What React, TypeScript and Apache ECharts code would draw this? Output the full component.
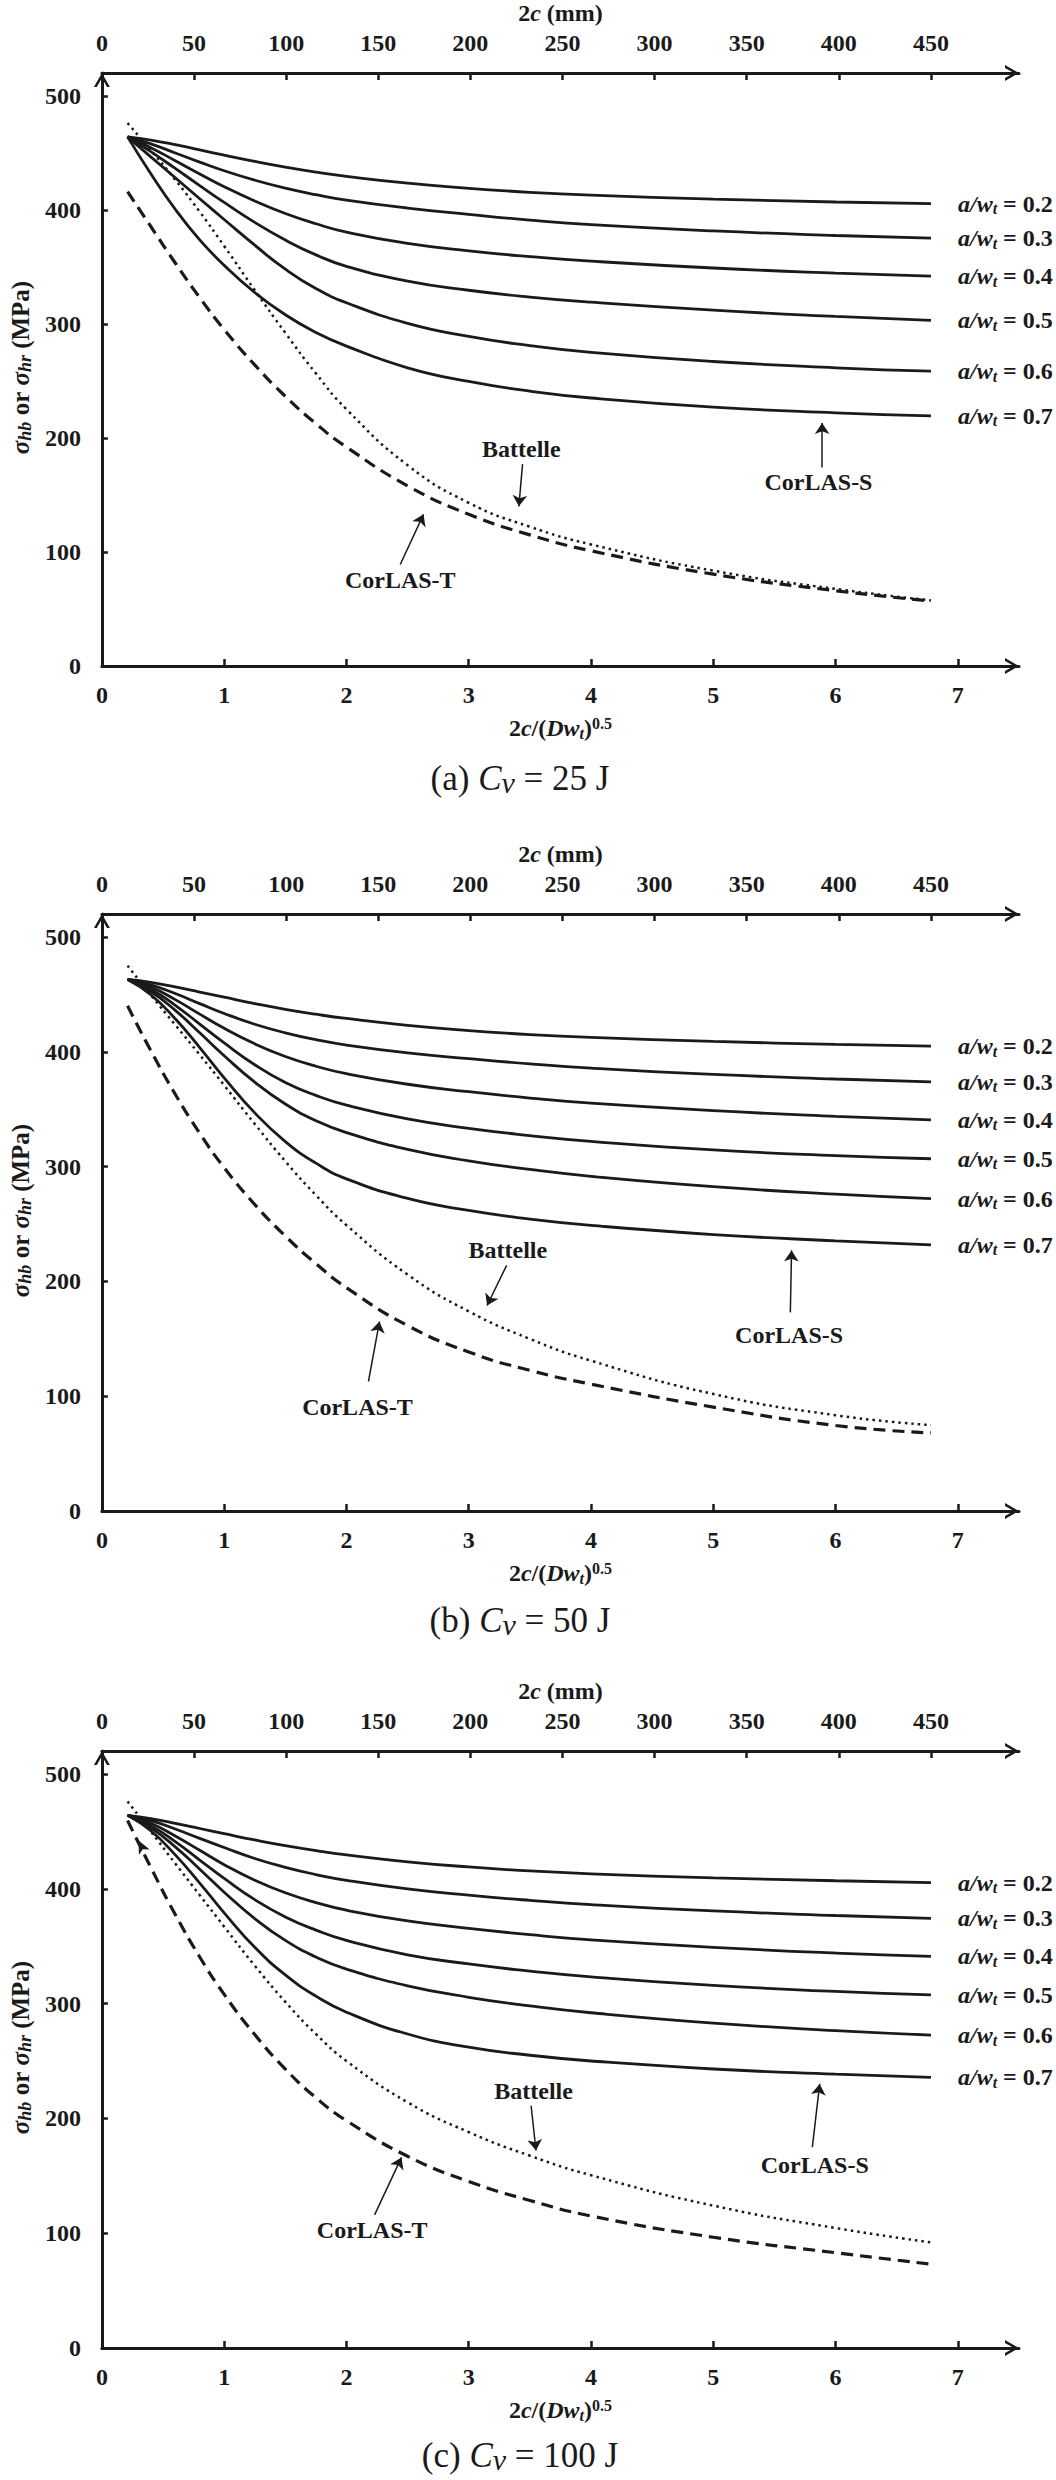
import React, { useEffect, useRef } from "react";
import * as echarts from "echarts";

const INK = "#1a1a1a";
const FONT = '"Liberation Serif", "Times New Roman", serif';

// shared abscissa 2c/(D wt)^0.5
const X_VALUES = [0.21, 0.4, 0.6, 0.8, 1.0, 1.25, 1.5, 1.75, 2.0, 2.5, 3.0, 3.5, 4.0, 5.0, 6.0, 6.78];
const RATIO_LABELS = ["0.2", "0.3", "0.4", "0.5", "0.6", "0.7"];
const BOTTOM_TICKS = [0, 1, 2, 3, 4, 5, 6, 7];
const TOP_TICKS = [0, 50, 100, 150, 200, 250, 300, 350, 400, 450];
const Y_TICKS = [0, 100, 200, 300, 400, 500];
const PANEL_TAGS = ["(a)", "(b)", "(c)"];
const PANEL_ENERGY = ["25", "50", "100"];

// (a) Cv = 25 J
const A_R02 = [464, 461.2, 457.2, 452.6, 448, 442.5, 437.5, 433.1, 429.4, 423.4, 418.9, 415.4, 412.9, 409.4, 406.9, 405.5];
const A_R03 = [464, 457.9, 449.9, 441.9, 434.3, 426, 419, 413.3, 408.5, 401.5, 396, 391, 387, 381.5, 377.5, 375.2];
const A_R04 = [464, 454.5, 443.1, 431.5, 420.3, 407.8, 396.8, 387.8, 380.5, 370.5, 364, 359, 355, 349, 344.5, 341.8];
const A_R05 = [464, 451.1, 436.3, 421.3, 406.5, 389, 373.5, 360.5, 350.5, 337.5, 329.5, 323.5, 319, 312, 306.5, 303];
const A_R06 = [464, 446.5, 428.1, 409.7, 391.5, 369, 348, 331, 318.5, 300.5, 289, 281, 275, 267, 261.5, 258.5];
const A_R07 = [464, 431.7, 400.5, 373.7, 351.3, 327.5, 308, 292.5, 280.5, 261.5, 249.5, 241, 235, 227, 222, 219.3];
const A_BATTELLE = [476, 452.3, 426.3, 398.3, 368.3, 329.6, 292.1, 256.6, 225.1, 176.1, 143.1, 122.1, 106.6, 83.6, 67.6, 57.5];
const A_CORLAS_T = [416, 385.4, 353.4, 323, 295, 264, 236.5, 212.5, 192, 158, 133, 115, 101, 80.5, 66, 57];

// (b) Cv = 50 J
const B_R02 = [463, 460.5, 456.5, 452, 447.5, 442, 437, 432.7, 429, 423, 418.5, 415, 412.5, 409, 406.5, 405];
const B_R03 = [463, 458.3, 450.7, 441.9, 433.3, 424, 416.5, 410.5, 405.8, 399, 394, 389.5, 385.8, 380.3, 376.3, 373.8];
const B_R04 = [463, 456.4, 445.4, 432.8, 420.4, 406.9, 395.9, 387.4, 380.9, 371.7, 365.2, 359.7, 355.2, 348.7, 343.7, 340.6];
const B_R05 = [463, 454.5, 440.5, 424.1, 407.7, 388.7, 373.2, 362, 353.5, 341.5, 333.3, 327, 322, 314.5, 309.5, 306.8];
const B_R06 = [463, 452.5, 436.1, 416.5, 396.5, 373.5, 354.5, 340, 329.5, 315, 305, 297.5, 291.5, 282.5, 276, 272.1];
const B_R07 = [463, 449.7, 428.7, 403.7, 377.3, 346.8, 321.8, 303, 289.3, 272.3, 261.8, 254.3, 248.8, 240.8, 235.3, 231.8];
const B_BATTELLE = [475, 449.4, 423.4, 397.4, 370.8, 337.1, 304.6, 275.1, 248.9, 205.9, 173.9, 149.9, 130.9, 101.9, 83.4, 74.8];
const B_CORLAS_T = [440, 401, 363, 329, 299, 267, 239.5, 215.5, 194.5, 161.5, 138.5, 122.5, 110.5, 90.5, 74.5, 68];

// (c) Cv = 100 J
const C_R02 = [464, 461, 457, 452.5, 448, 442.5, 437.5, 433.2, 429.5, 423.5, 419, 415.5, 413, 409.5, 407, 405.4];
const C_R03 = [464, 459.3, 452.1, 443.9, 435.9, 426.4, 418.7, 412.4, 407.4, 399.9, 394.4, 389.9, 386.2, 380.7, 376.7, 374.2];
const C_R04 = [464, 457, 446, 433.5, 421, 407.5, 396.5, 388, 381.3, 372, 365.5, 360, 355.5, 349, 344, 341.2];
const C_R05 = [464, 455, 441, 425, 409, 390.5, 375.5, 364, 355, 342.5, 334.5, 328.3, 323.2, 315.8, 310.6, 307.6];
const C_R06 = [464, 453, 436.5, 417, 397, 374, 355, 340.5, 330, 315.5, 305.5, 298, 292, 283, 276.5, 272.6];
const C_R07 = [464, 450.5, 429.5, 405, 379, 349, 325, 306.5, 292.5, 273.5, 262, 255, 250, 243, 238.5, 235.7];
const C_BATTELLE = [476, 450, 422, 394.5, 367, 333, 301.5, 273.5, 250, 214, 188, 167.5, 150.5, 124, 104.5, 92];
const C_CORLAS_T = [459.5, 418.6, 377.6, 340.6, 308, 273, 243, 218, 198, 167, 145, 128.5, 115, 96.5, 83, 73];

// annotation anchors in data units: [label], [arrow tail], [arrow head]
const A_BATTELLE_NOTE = [[3.43, 190], [3.44, 177], [3.41, 140]];
const A_CORLAS_T_NOTE = [[2.44, 75], [2.44, 89], [2.63, 133]];
const A_CORLAS_S_NOTE = [[5.86, 161], [5.89, 174], [5.89, 213]];
const B_BATTELLE_NOTE = [[3.32, 227], [3.31, 214], [3.15, 179]];
const B_CORLAS_T_NOTE = [[2.09, 91], [2.18, 113], [2.27, 165]];
const B_CORLAS_S_NOTE = [[5.62, 153], [5.63, 173], [5.64, 227]];
const C_BATTELLE_NOTE = [[3.53, 224], [3.51, 211], [3.55, 172]];
const C_CORLAS_T_NOTE = [[2.21, 103], [2.23, 116], [2.45, 166]];
const C_CORLAS_S_NOTE = [[5.83, 159], [5.81, 175], [5.87, 230]];
// stray arrowhead drawn at the start of CorLAS-T in panel (c)
const C_START_ARROW = [0.3, 442];

const PANELS = [
  { solids: [A_R02, A_R03, A_R04, A_R05, A_R06, A_R07], battelle: A_BATTELLE, corlasT: A_CORLAS_T, notes: [A_BATTELLE_NOTE, A_CORLAS_T_NOTE, A_CORLAS_S_NOTE], startArrow: null as number[] | null },
  { solids: [B_R02, B_R03, B_R04, B_R05, B_R06, B_R07], battelle: B_BATTELLE, corlasT: B_CORLAS_T, notes: [B_BATTELLE_NOTE, B_CORLAS_T_NOTE, B_CORLAS_S_NOTE], startArrow: null as number[] | null },
  { solids: [C_R02, C_R03, C_R04, C_R05, C_R06, C_R07], battelle: C_BATTELLE, corlasT: C_CORLAS_T, notes: [C_BATTELLE_NOTE, C_CORLAS_T_NOTE, C_CORLAS_S_NOTE], startArrow: C_START_ARROW },
];

// layout
const GRID_TOPS = [69, 914, 1751];
const GRID_LEFT = 84.5;
const GRID_WIDTH = 934.5;
const GRID_HEIGHT = 597;
const X_MAX = 7.5;
const TOP_MAX_MM = (X_MAX * 450) / 6.78;
const Y_MAX = 520;
const CAPTION_Y = [778, 1620, 2455];
const SMOOTH = 0.5;

const CHEVRON = "path://M8,0 L16,14 L13.1,14 L8,5.07 L2.9,14 L0,14 Z";

const base = { fontFamily: FONT, fontWeight: "bold", fontSize: 24, color: INK, lineHeight: 26 };
const RICH = {
  n: { ...base },
  i: { ...base, fontStyle: "italic" },
  s: { ...base, fontStyle: "italic", fontSize: 16, lineHeight: 12, verticalAlign: "bottom" },
  p: { ...base, fontSize: 16, lineHeight: 10, verticalAlign: "top" },
};
const yBase = { fontFamily: FONT, fontWeight: "bold", fontSize: 25, color: INK, lineHeight: 27 };
const Y_RICH = {
  n: { ...yBase },
  i: { ...yBase, fontStyle: "italic" },
  s: { ...yBase, fontStyle: "italic", fontSize: 18, lineHeight: 12, verticalAlign: "bottom" },
};
const capBase = { fontFamily: FONT, fontSize: 35, color: INK, lineHeight: 38 };
const CAP_RICH = {
  n: { ...capBase },
  i: { ...capBase, fontStyle: "italic" },
  v: { ...capBase, fontStyle: "italic", fontSize: 30, lineHeight: 30, verticalAlign: "bottom" },
};

const tickFont = { fontFamily: FONT, fontWeight: "bold", fontSize: 24, color: INK };
const axisLineStyle = { color: INK, width: 3 };

function pairs(ys: number[]) {
  return X_VALUES.map((x, i) => [x, ys[i]]);
}

function noteMarks(note: number[][], text: string, extraPoints: any[] = []) {
  return {
    markLine: {
      silent: true,
      symbol: ["none", "arrow"],
      symbolSize: 11,
      lineStyle: { color: INK, width: 1.5, type: "solid" },
      label: { show: false },
      emphasis: { disabled: true },
      data: [[{ coord: note[1] }, { coord: note[2] }]],
    },
    markPoint: {
      silent: true,
      symbol: "circle",
      symbolSize: 1,
      itemStyle: { color: "rgba(0,0,0,0)" },
      label: { show: true, position: "inside", formatter: () => text, ...tickFont },
      data: [{ coord: note[0] }, ...extraPoints],
    },
  };
}

function buildOption() {
  const grid: any[] = [];
  const xAxis: any[] = [];
  const yAxis: any[] = [];
  const series: any[] = [];
  const graphic: any[] = [];

  PANELS.forEach((panel, p) => {
    grid.push({ left: GRID_LEFT, width: GRID_WIDTH, top: GRID_TOPS[p], height: GRID_HEIGHT });
    xAxis.push({
      type: "value",
      gridIndex: p,
      position: "bottom",
      min: 0,
      max: X_MAX,
      axisLine: { show: true, onZero: false, lineStyle: axisLineStyle, symbol: ["none", CHEVRON], symbolSize: [16, 14], symbolOffset: [0, -7] },
      axisTick: { show: true, inside: true, length: 7, lineStyle: { color: INK, width: 2.5 }, customValues: BOTTOM_TICKS },
      axisLabel: { customValues: BOTTOM_TICKS, margin: 17, ...tickFont },
      splitLine: { show: false },
      name: "{n|2}{i|c}{n|/(}{i|Dw}{s|t}{n|)}{p|0.5}",
      nameLocation: "middle",
      nameGap: 49,
      nameTextStyle: { rich: RICH },
    });
    xAxis.push({
      type: "value",
      gridIndex: p,
      position: "top",
      min: 0,
      max: TOP_MAX_MM,
      axisLine: { show: true, onZero: false, lineStyle: axisLineStyle, symbol: ["none", CHEVRON], symbolSize: [16, 14], symbolOffset: [0, -7] },
      axisTick: { show: true, inside: true, length: 7, lineStyle: { color: INK, width: 2.5 }, customValues: TOP_TICKS },
      axisLabel: { customValues: TOP_TICKS, margin: 18, ...tickFont },
      splitLine: { show: false },
      name: "{n|2}{i|c}{n| (mm)}",
      nameLocation: "middle",
      nameGap: 47,
      nameTextStyle: { rich: RICH },
    });
    yAxis.push({
      type: "value",
      gridIndex: p,
      min: 0,
      max: Y_MAX,
      axisLine: { show: true, onZero: false, lineStyle: axisLineStyle, symbol: ["none", CHEVRON], symbolSize: [16, 14], symbolOffset: [0, -7] },
      axisTick: { show: true, inside: true, length: 6, lineStyle: { color: INK, width: 2.5 }, customValues: Y_TICKS },
      axisLabel: { customValues: Y_TICKS, margin: 21, ...tickFont },
      splitLine: { show: false },
      name: "{i|σ}{s|hb}{n| or }{i|σ}{s|hr}{n| (MPa)}",
      nameLocation: "middle",
      nameGap: 58,
      nameRotate: 90,
      nameTextStyle: { rich: Y_RICH, padding: [0, 0, 0, 4] },
    });

    panel.solids.forEach((vals, k) => {
      const s: any = {
        type: "line",
        name: `a/wt = ${RATIO_LABELS[k]} ${PANEL_TAGS[p]}`,
        xAxisIndex: 2 * p,
        yAxisIndex: p,
        data: pairs(vals),
        showSymbol: false,
        symbol: "none",
        smooth: SMOOTH,
        silent: true,
        lineStyle: { color: INK, width: 2.8 },
        endLabel: {
          show: true,
          distance: 27,
          formatter: () => `{i|a/w}{s|t}{n| = ${RATIO_LABELS[k]}}`,
          rich: RICH,
        },
      };
      if (k === 5) Object.assign(s, noteMarks(panel.notes[2], "CorLAS-S"));
      series.push(s);
    });

    series.push({
      type: "line",
      name: `Battelle ${PANEL_TAGS[p]}`,
      xAxisIndex: 2 * p,
      yAxisIndex: p,
      data: pairs(panel.battelle),
      showSymbol: false,
      symbol: "none",
      smooth: SMOOTH,
      silent: true,
      lineStyle: { color: INK, width: 2.5, type: [2.5, 4] },
      ...noteMarks(panel.notes[0], "Battelle"),
    });

    const extra = panel.startArrow
      ? [{ coord: panel.startArrow, symbol: "arrow", symbolSize: [9, 13], symbolRotate: 26, itemStyle: { color: INK }, label: { show: false } }]
      : [];
    series.push({
      type: "line",
      name: `CorLAS-T ${PANEL_TAGS[p]}`,
      xAxisIndex: 2 * p,
      yAxisIndex: p,
      data: pairs(panel.corlasT),
      showSymbol: false,
      symbol: "none",
      smooth: SMOOTH,
      silent: true,
      lineStyle: { color: INK, width: 3.2, type: [12, 7] },
      ...noteMarks(panel.notes[1], "CorLAS-T", extra),
    });

    graphic.push({
      type: "text",
      x: 520,
      y: CAPTION_Y[p],
      style: {
        text: `{n|${PANEL_TAGS[p]} }{i|C}{v|v}{n| = ${PANEL_ENERGY[p]} J}`,
        rich: CAP_RICH,
        align: "center",
        verticalAlign: "middle",
        fill: INK,
      },
    });
  });

  return { animation: false, backgroundColor: "#ffffff", grid, xAxis, yAxis, series, graphic };
}

export default function App() {
  const ref = useRef<HTMLDivElement>(null);
  useEffect(() => {
    document.body.style.margin = "0";
    const chart = echarts.init(ref.current!, null, { renderer: "svg" });
    chart.setOption(buildOption() as any);
    return () => chart.dispose();
  }, []);
  return <div ref={ref} style={{ width: 1056, height: 2480 }} />;
}
